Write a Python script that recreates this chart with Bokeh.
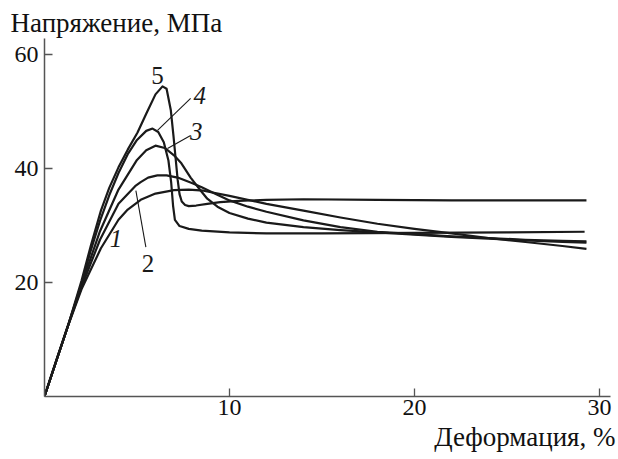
from bokeh.plotting import figure
from bokeh.models import Range1d, FixedTicker, Label, Title
from bokeh.embed import file_html
from bokeh.resources import INLINE

# ---- data (strain %, stress MPa) ----
strain_1 = [0, 0.6, 1.25, 2.0, 3.05, 4.0, 4.5, 5.2, 6.0, 7.0, 7.8, 8.6, 10, 12, 14, 16, 18, 20, 22, 24, 26, 28, 29.3]
stress_1 = [0, 5.9, 12.2, 18.8, 26.0, 31.0, 32.8, 34.5, 35.6, 36.2, 36.3, 36.1, 35.2, 33.8, 32.6, 31.4, 30.3, 29.4, 28.6, 27.8, 27.1, 26.4, 25.9]

strain_2 = [0, 0.6, 1.25, 2.0, 3.0, 4.0, 4.9, 5.2, 5.6, 6.1, 6.6, 7.2, 8.0, 8.5, 9.2, 10, 11, 12, 14, 16, 18, 20, 22, 24, 26, 28, 29.3]
stress_2 = [0, 5.9, 12.2, 19.2, 27.5, 33.8, 36.9, 37.6, 38.4, 38.8, 38.8, 38.4, 37.4, 36.7, 35.6, 34.4, 33.3, 32.4, 30.9, 29.7, 28.9, 28.5, 28.1, 27.8, 27.5, 27.3, 27.2]

strain_3 = [0, 0.6, 1.25, 2.0, 3.0, 4.0, 5.0, 5.5, 6.0, 6.5, 7.0, 7.4, 7.9, 8.45, 8.8, 9.35, 10, 11, 12, 14, 16, 18, 20, 22, 24, 26, 28, 29.3]
stress_3 = [0, 5.9, 12.2, 19.6, 29.0, 36.3, 41.5, 43.2, 44.0, 43.6, 42.3, 40.9, 38.4, 36.1, 34.7, 33.3, 32.2, 31.2, 30.5, 29.7, 29.2, 28.8, 28.4, 28.0, 27.7, 27.4, 27.1, 27.0]

strain_4 = [0, 0.6, 1.25, 2.0, 2.5, 3.0, 3.5, 4.0, 4.5, 5.0, 5.5, 5.84, 6.15, 6.45, 6.7, 6.85, 6.95, 7.05, 7.3, 7.8, 8.5, 10, 12, 15, 20, 25, 29.2]
stress_4 = [0, 5.9, 12.2, 19.8, 25.6, 30.8, 35.3, 39.2, 42.5, 45.0, 46.6, 47.0, 46.4, 44.6, 41.4, 37.5, 33.5, 31.0, 29.9, 29.4, 29.1, 28.8, 28.6, 28.6, 28.7, 28.8, 28.9]

strain_5 = [0, 0.6, 1.25, 2.0, 2.5, 3.05, 3.5, 4.0, 4.5, 5.03, 5.5, 6.0, 6.38, 6.6, 6.83, 6.97, 7.1, 7.2, 7.3, 7.42, 7.6, 7.8, 8.2, 8.8, 9.5, 10.5, 12, 14, 18, 22, 26, 29.3]
stress_5 = [0, 5.9, 12.2, 20.3, 26.4, 32.6, 36.6, 40.2, 43.3, 46.3, 49.6, 53.0, 54.4, 54.0, 50.2, 45.8, 41.4, 38.0, 35.5, 34.2, 33.6, 33.4, 33.5, 33.8, 34.1, 34.3, 34.5, 34.6, 34.5, 34.4, 34.4, 34.4]

x_ticks = [10, 20, 30]
y_ticks = [20, 40, 60]
curve_names = ["1", "2", "3", "4", "5"]
y_title = "Напряжение, МПа"
x_title = "Деформация, %"

FONT = "Liberation Serif"
INK = "#1a1a1a"

p = figure(width=618, height=459, output_backend="svg", toolbar_location=None,
           x_range=Range1d(0, 30.6), y_range=Range1d(0, 62.8),
           min_border_left=44, min_border_right=8, min_border_top=38, min_border_bottom=63)
p.outline_line_color = None
p.xgrid.visible = False
p.ygrid.visible = False
p.background_fill_color = "white"
p.border_fill_color = "white"

for ax, ticks in ((p.xaxis[0], x_ticks), (p.yaxis[0], y_ticks)):
    ax.ticker = FixedTicker(ticks=ticks)
    ax.axis_line_color = "#555555"
    ax.axis_line_width = 1.5
    ax.major_tick_line_color = "#555555"
    ax.major_tick_line_width = 1.3
    ax.major_tick_in = 8
    ax.major_tick_out = 0
    ax.minor_tick_line_color = None
    ax.major_label_text_font = FONT
    ax.major_label_text_font_size = "24px"
    ax.major_label_text_color = "#111111"
p.xaxis.major_label_standoff = 3
p.yaxis.major_label_standoff = 6

series = [(strain_1, stress_1), (strain_2, stress_2), (strain_3, stress_3),
          (strain_4, stress_4), (strain_5, stress_5)]
for xs, ys in series:
    p.line(xs, ys, line_color=INK, line_width=2.2, line_join="round")

# leader lines for curve labels
p.line([5.48, 4.94], [26.2, 36.1], line_color=INK, line_width=1.1)
p.line([7.9, 6.65], [45.8, 43.5], line_color=INK, line_width=1.1)
p.line([7.9, 6.11], [52.3, 46.7], line_color=INK, line_width=1.1)

label_pos = {"1": (3.86, 27.7, "italic"), "2": (5.59, 23.3, "normal"),
             "3": (8.2, 46.4, "italic"), "4": (8.4, 52.8, "italic"),
             "5": (6.11, 56.3, "normal")}
for name in curve_names:
    lx, ly, st = label_pos[name]
    p.add_layout(Label(x=lx, y=ly, text=name, text_font=FONT, text_font_size="25px",
                       text_font_style=st, text_align="center", text_baseline="middle",
                       text_color=INK))

p.title = Title(text=y_title, align="left", text_font=FONT, text_font_size="27px",
                text_font_style="normal", text_color="#111111", offset=-34, standoff=2)
p.add_layout(Title(text=x_title, align="right", text_font=FONT, text_font_size="27px",
                   text_font_style="normal", text_color="#111111", offset=-5, standoff=5),
             "below")

open("out.html", "w").write(file_html(p, INLINE))
